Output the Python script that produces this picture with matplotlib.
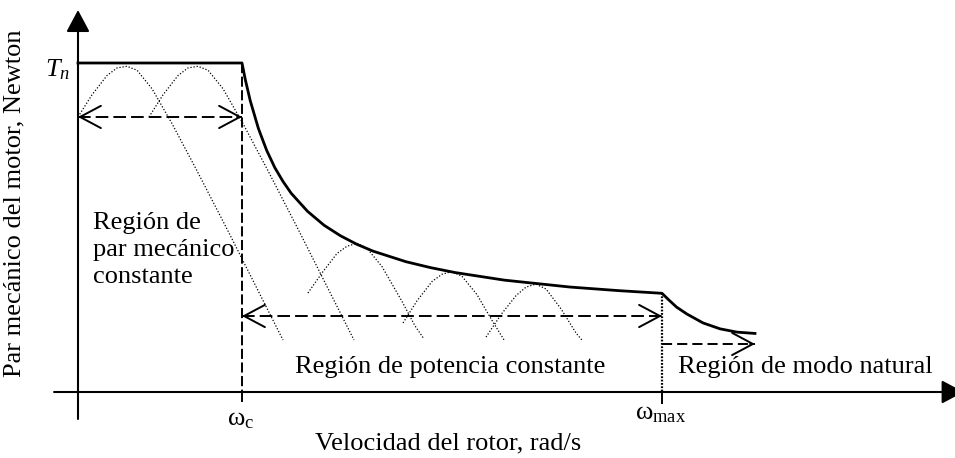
import matplotlib
matplotlib.use("Agg")
import matplotlib.pyplot as plt

plt.rcParams["font.family"] = ["Liberation Serif", "DejaVu Serif"]
plt.rcParams["mathtext.fontset"] = "custom"
plt.rcParams["mathtext.rm"] = "Liberation Serif"
plt.rcParams["mathtext.it"] = "Liberation Serif:italic"

# speed in units of w_c, torque in units of T_n
w_c = 1.0
w_max = 3.561
T_n = 1.0

# envelope: constant torque -> constant power -> natural mode
env_w = [0.0, 1.0, 1.02, 1.05, 1.1, 1.15, 1.2, 1.25, 1.3, 1.4, 1.5, 1.6, 1.7, 1.8,
         2.0, 2.15, 2.3, 2.6, 3.0, 3.3, 3.561,
         3.60, 3.65, 3.713, 3.811, 3.915, 4.018, 4.128]
env_T = [1.0, 1.0, 0.950, 0.886, 0.801, 0.735, 0.682, 0.640, 0.604, 0.549, 0.507, 0.475, 0.449, 0.428,
         0.396, 0.378, 0.363, 0.340, 0.319, 0.308, 0.300,
         0.281, 0.258, 0.237, 0.210, 0.192, 0.182, 0.178]

# single torque-speed curves at different supply frequencies
curve1_w = [0.000, 0.085, 0.177, 0.238, 0.299, 0.360, 0.451, 0.573, 0.726, 0.909, 1.091, 1.250]
curve1_T = [0.836, 0.903, 0.962, 0.985, 0.990, 0.978, 0.922, 0.816, 0.672, 0.495, 0.315, 0.158]
curve2_w = [0.433, 0.518, 0.610, 0.671, 0.732, 0.793, 0.884, 1.006, 1.159, 1.342, 1.524, 1.683]
curve2_T = [0.836, 0.903, 0.962, 0.985, 0.990, 0.978, 0.922, 0.816, 0.672, 0.495, 0.315, 0.158]
curve3_w = [1.402, 1.488, 1.579, 1.640, 1.701, 1.762, 1.854, 1.976, 2.055, 2.110]
curve3_T = [0.301, 0.362, 0.421, 0.443, 0.452, 0.437, 0.381, 0.275, 0.201, 0.161]
curve4_w = [1.982, 2.067, 2.159, 2.220, 2.280, 2.341, 2.433, 2.524, 2.598]
curve4_T = [0.210, 0.277, 0.336, 0.358, 0.366, 0.352, 0.296, 0.218, 0.158]
curve5_w = [2.488, 2.579, 2.671, 2.732, 2.793, 2.854, 2.945, 3.037, 3.073]
curve5_T = [0.167, 0.235, 0.293, 0.319, 0.328, 0.313, 0.253, 0.179, 0.158]

# heights of the region arrows
arrow_torque_T = 0.836
arrow_power_T = 0.231
arrow_natural_T = 0.146
natural_end_w = 4.128

fig = plt.figure(figsize=(9.55, 4.58), dpi=100)
ax = fig.add_axes([0, 0, 1, 1])
ax.set_xlim(-0.4756, 5.3476)
ax.set_ylim(-0.2006, 1.1915)
ax.axis("off")

FS = 19


def open_head(tip_w, tip_T, direction):
    # open V arrow head, direction = +1 points right, -1 points left
    ax.annotate("", xy=(tip_w, tip_T), xytext=(tip_w - direction * 0.03, tip_T),
                arrowprops=dict(arrowstyle="->,head_length=1.5,head_width=0.8",
                                lw=1.4, color="black", shrinkA=0, shrinkB=0,
                                mutation_scale=10),
                annotation_clip=False)


# axes with filled arrows
ax.annotate("", xy=(0, 1.161), xytext=(0, -0.082),
            arrowprops=dict(arrowstyle="-|>,head_length=1.35,head_width=0.72",
                            lw=1.5, color="black", shrinkA=0, shrinkB=0,
                            mutation_scale=10),
            annotation_clip=False)
ax.annotate("", xy=(5.40, 0), xytext=(-0.146, 0),
            arrowprops=dict(arrowstyle="-|>,head_length=1.35,head_width=0.72",
                            lw=1.5, color="black", shrinkA=0, shrinkB=0,
                            mutation_scale=10),
            annotation_clip=False)

# dotted torque-speed curves
for cw, cT in [(curve1_w, curve1_T), (curve2_w, curve2_T), (curve3_w, curve3_T),
               (curve4_w, curve4_T), (curve5_w, curve5_T)]:
    ax.plot(cw, cT, color="black", lw=0.9, ls=(0, (1, 1.5)))

# envelope
ax.plot(env_w, env_T, color="black", lw=2.0, solid_joinstyle="round")

# markers for w_c and w_max
ax.plot([w_c, w_c], [T_n, 0], color="black", lw=1.4, ls=(0, (5.2, 1.8)))
ax.plot([w_c, w_c], [0, -0.027], color="black", lw=1.4)
ax.plot([w_max, w_max], [env_T[env_w.index(w_max)], 0], color="black", lw=1.6,
        ls=(0, (0.8, 0.7)))
ax.plot([w_max, w_max], [0, -0.033], color="black", lw=1.4)

# region arrows
ax.plot([0, w_c], [arrow_torque_T] * 2, color="black", lw=1.4, ls=(0, (6.5, 2.6)))
open_head(0, arrow_torque_T, -1)
open_head(w_c, arrow_torque_T, 1)

ax.plot([w_c, w_max], [arrow_power_T] * 2, color="black", lw=1.4, ls=(0, (6.5, 2.6)))
open_head(w_c, arrow_power_T, -1)
open_head(w_max, arrow_power_T, 1)

ax.plot([w_max, natural_end_w], [arrow_natural_T] * 2, color="black", lw=1.4,
        ls=(0, (5.2, 2.6)))
open_head(natural_end_w, arrow_natural_T, 1)

# labels
ax.text(-0.05, 0.979, r"$T_n$", fontsize=FS, ha="right", va="center")
ax.text(w_c - 0.01, -0.085, r"$\mathrm{\omega}_\mathrm{c}$", fontsize=FS, ha="center", va="center")
ax.text(w_max - 0.01, -0.066, r"$\mathrm{\omega}_\mathrm{max}$", fontsize=FS, ha="center", va="center")

ax.text(2.256, -0.155, "Velocidad del rotor, rad/s", fontsize=FS, ha="center", va="center")
ax.text(-0.390, 0.574, "Par mecánico del motor, Newton", fontsize=FS, ha="center",
        va="center", rotation=90)
ax.text(0.0915, 0.547, "Región de\npar mecánico\nconstante", fontsize=FS, ha="left",
        va="top", linespacing=1.3)
ax.text(2.268, 0.076, "Región de potencia constante", fontsize=FS, ha="center", va="center")
ax.text(3.659, 0.076, "Región de modo natural", fontsize=FS, ha="left", va="center")

fig.savefig("out.png", dpi=100)
